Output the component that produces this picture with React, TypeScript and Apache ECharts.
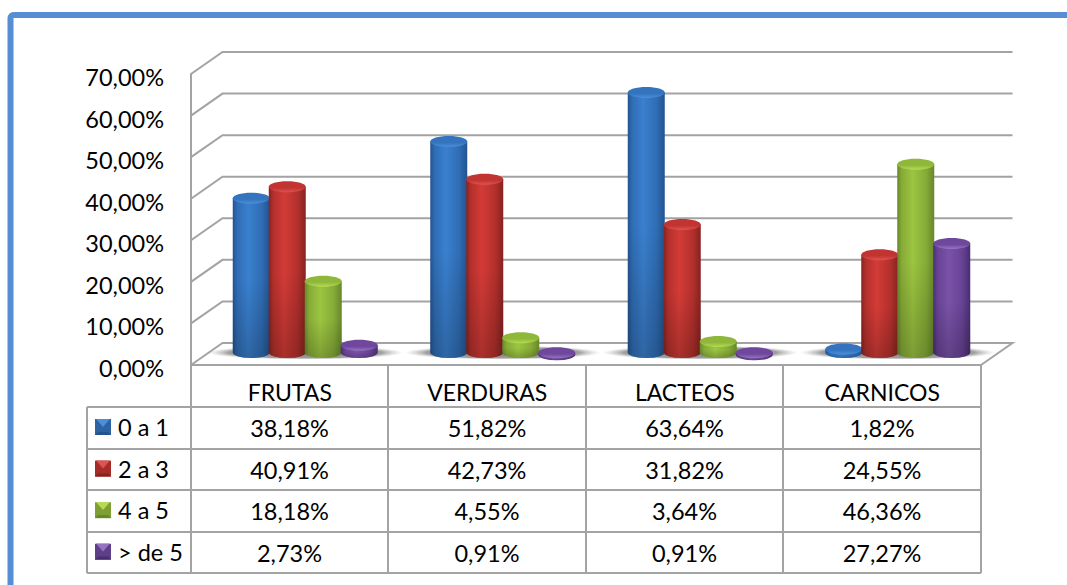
import React, { useEffect, useRef } from "react";
import * as echarts from "echarts";

const categories = ["FRUTAS", "VERDURAS", "LACTEOS", "CARNICOS"];
const seriesNames = ["0 a 1", "2 a 3", "4 a 5", "> de 5"];
const values0a1 = [38.18, 51.82, 63.64, 1.82];
const values2a3 = [40.91, 42.73, 31.82, 24.55];
const values4a5 = [18.18, 4.55, 3.64, 46.36];
const valuesMas5 = [2.73, 0.91, 0.91, 27.27];
const yTicks = [0, 10, 20, 30, 40, 50, 60, 70];

const allValues = [values0a1, values2a3, values4a5, valuesMas5];
const palette = [
  { edge: "#235390", mid: "#2f6db4", light: "#3a80cf", top: "#3474be", topLight: "#4b8fd8", key: "#2d62a3" },
  { edge: "#862321", mid: "#b3302c", light: "#d33b37", top: "#c23431", topLight: "#dc5450", key: "#a52c29" },
  { edge: "#66872a", mid: "#86ab37", light: "#9cc541", top: "#8fb83b", topLight: "#b5da55", key: "#7f9f35" },
  { edge: "#482e72", mid: "#684394", light: "#7a52a8", top: "#6f479d", topLight: "#9674c4", key: "#5f4088" },
];

const FONT = "Lato";
const FS = 23.5;
const fmt = (v: number) => v.toFixed(2).replace(".", ",") + "%";

const FRONT_L = 191;
const FRONT_W = 790;
const DEPTH_X = 31.5;
const DEPTH_Y = -22;
const COLS = [191, 388, 586, 783, 981];
const ROWS = [407, 449, 490, 532, 573];
const GRID_COLOR = "#a3a3a3";
const BAR_W = 37;
const BAR_STEP = 36;
const RY = 5.5;
const BASE_LIFT = 4;

function wallItem(params: any, api: any) {
  const tick = api.value(0);
  const y = api.coord([0, tick])[1];
  const x0 = params.coordSys.x;
  const x1 = x0 + params.coordSys.width;
  return {
    type: "polyline",
    shape: {
      points: [
        [x0, y],
        [x0 + DEPTH_X, y + DEPTH_Y],
        [x1 + DEPTH_X, y + DEPTH_Y],
        ...(tick === 0 ? [[x1, y]] : []),
      ],
    },
    style: { fill: "none", stroke: GRID_COLOR, lineWidth: 2 },
  };
}

function shadowItem(_: any, api: any) {
  const p = api.coord([api.value(0), 0]);
  return {
    type: "ellipse",
    shape: { cx: p[0], cy: p[1] - 4, rx: 98, ry: 7 },
    style: {
      fill: {
        type: "radial",
        x: 0.5,
        y: 0.5,
        r: 0.5,
        colorStops: [
          { offset: 0, color: "rgba(85,85,85,0.8)" },
          { offset: 0.78, color: "rgba(100,100,100,0.62)" },
          { offset: 1, color: "rgba(170,170,170,0)" },
        ],
      },
    },
  };
}

function barItem(seriesIndex: number) {
  return (_: any, api: any) => {
    const c = palette[seriesIndex];
    const cat = api.value(0);
    const val = api.value(1);
    const base = api.coord([cat, 0]);
    const topP = api.coord([cat, val]);
    const cx = base[0] + (seriesIndex - 1.5) * BAR_STEP;
    const rx = BAR_W / 2;
    const yt = topP[1];
    const yb = Math.max(base[1] - BASE_LIFT, yt + 2);
    const x0 = cx - rx;
    const x1 = cx + rx;
    const d = `M${x0} ${yt} L${x0} ${yb} A${rx} ${RY} 0 0 0 ${x1} ${yb} L${x1} ${yt} Z`;
    const shape = { pathData: d, layout: "cover", x: x0, y: yt, width: BAR_W, height: yb + RY - yt };
    const hGrad = {
      type: "linear",
      x: 0,
      y: 0,
      x2: 1,
      y2: 0,
      colorStops: [
        { offset: 0, color: c.edge },
        { offset: 0.12, color: c.mid },
        { offset: 0.42, color: c.light },
        { offset: 0.78, color: c.mid },
        { offset: 1, color: c.edge },
      ],
    };
    const vGrad = {
      type: "linear",
      x: 0,
      y: 0,
      x2: 0,
      y2: 1,
      colorStops: [
        { offset: 0, color: "rgba(0,0,0,0)" },
        { offset: 0.5, color: "rgba(0,0,0,0)" },
        { offset: 1, color: "rgba(0,0,0,0.2)" },
      ],
    };
    const topGrad = {
      type: "linear",
      x: 0,
      y: 0,
      x2: 0,
      y2: 1,
      colorStops: [
        { offset: 0, color: c.top },
        { offset: 0.6, color: c.top },
        { offset: 1, color: c.topLight },
      ],
    };
    return {
      type: "group",
      children: [
        { type: "path", shape, style: { fill: hGrad } },
        { type: "path", shape, style: { fill: vGrad } },
        { type: "ellipse", shape: { cx, cy: yt, rx, ry: RY }, style: { fill: topGrad } },
      ],
    };
  };
}

export default function App() {
  const ref = useRef<HTMLDivElement>(null);
  useEffect(() => {
    const chart = echarts.init(ref.current!, undefined, { renderer: "svg" });
    const lineEl = (x1: number, y1: number, x2: number, y2: number) => ({
      type: "line",
      shape: { x1, y1, x2, y2 },
      style: { stroke: GRID_COLOR, lineWidth: 2 },
    });
    const tableLines = [
      ...ROWS.map((y) => lineEl(87, y, COLS[4], y)),
      lineEl(87, ROWS[0], 87, ROWS[4]),
      ...COLS.map((x) => lineEl(x, ROWS[0], x, ROWS[4])),
    ];
    const tableTexts = allValues.flatMap((vals, r) =>
      vals.map((v, c) => ({
        type: "text",
        x: (COLS[c] + COLS[c + 1]) / 2,
        y: (ROWS[r] + ROWS[r + 1]) / 2,
        style: { text: fmt(v), fill: "#000", font: `${FS}px ${FONT}`, textAlign: "center", textVerticalAlign: "middle" },
      }))
    );
    const keyBevels = palette.flatMap((c, r) => {
      const y = (ROWS[r] + ROWS[r + 1]) / 2 - 9;
      return [
        { type: "polygon", z: 100, shape: { points: [[96, y], [110, y], [103, y + 8]] }, style: { fill: c.topLight } },
        { type: "polygon", z: 100, shape: { points: [[95, y + 16], [111, y + 16], [108, y + 13], [98, y + 13]] }, style: { fill: c.edge } },
      ];
    });
    chart.setOption({
      animation: false,
      backgroundColor: "#fff",
      textStyle: { fontFamily: FONT },
      grid: [
        { left: FRONT_L, width: FRONT_W, top: 74, height: 291 },
        { left: FRONT_L + 15.5, width: FRONT_W, top: 66.1, height: 290.5 },
      ],
      xAxis: [
        {
          gridIndex: 0,
          type: "category",
          data: categories,
          axisLine: { lineStyle: { color: GRID_COLOR, width: 2 } },
          axisTick: { show: false },
          axisLabel: { color: "#000", fontSize: 23, fontFamily: FONT, margin: 15 },
        },
        { gridIndex: 1, type: "category", data: categories, show: false },
      ],
      yAxis: [
        {
          gridIndex: 0,
          type: "value",
          min: 0,
          max: 70,
          interval: 10,
          axisLine: { show: true, lineStyle: { color: GRID_COLOR, width: 2 } },
          axisTick: { show: false },
          splitLine: { show: false },
          axisLabel: { color: "#000", fontSize: FS, fontFamily: FONT, margin: 27, verticalAlign: "top", lineHeight: 6, formatter: (v: number) => fmt(v) },
        },
        { gridIndex: 1, type: "value", min: 0, max: 70, interval: 10, show: false, splitLine: { show: false } },
      ],
      legend: {
        orient: "vertical",
        left: 95,
        top: 415,
        padding: 0,
        itemWidth: 16,
        itemHeight: 16,
        itemGap: 17.6,
        icon: "rect",
        selectedMode: false,
        data: seriesNames,
        textStyle: { color: "#000", fontSize: FS, fontFamily: FONT, lineHeight: 24, padding: [0, 0, 0, 2] },
      },
      series: [
        {
          type: "custom",
          name: "walls",
          xAxisIndex: 0,
          yAxisIndex: 0,
          silent: true,
          z: 1,
          data: yTicks.map((t) => [t]),
          encode: { y: 0 },
          renderItem: wallItem,
        },
        {
          type: "custom",
          name: "floor shadow",
          xAxisIndex: 1,
          yAxisIndex: 1,
          silent: true,
          z: 2,
          data: categories.map((_, i) => [i]),
          encode: { x: 0 },
          renderItem: shadowItem,
        },
        ...seriesNames.map((name, s) => ({
          type: "custom",
          name,
          xAxisIndex: 1,
          yAxisIndex: 1,
          silent: true,
          z: 3 + s,
          itemStyle: { color: palette[s].key },
          data: allValues[s].map((v, i) => [i, v]),
          encode: { x: 0, y: 1 },
          renderItem: barItem(s),
        })),
      ],
      graphic: [
        {
          type: "rect",
          shape: { x: 10.5, y: 15, width: 1300, height: 900, r: 3 },
          style: { fill: "none", stroke: "#558ed5", lineWidth: 6 },
        },
        ...COLS.map((x) => lineEl(x, 365, x, ROWS[0])),
        ...tableLines,
        ...tableTexts,
        ...keyBevels,
      ],
    });
    return () => chart.dispose();
  }, []);
  return <div ref={ref} style={{ position: "fixed", left: 0, top: 0, width: 1067, height: 585 }} />;
}
